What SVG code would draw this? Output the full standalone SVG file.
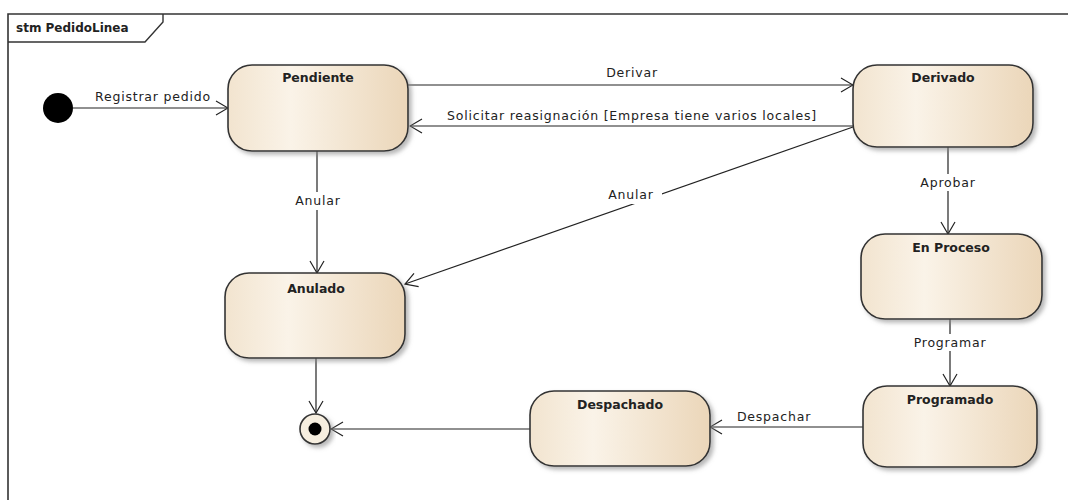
<svg xmlns="http://www.w3.org/2000/svg" width="1068" height="500" viewBox="0 0 1068 500">
  <defs>
    <linearGradient id="stateFill" x1="0" y1="0" x2="1" y2="0">
      <stop offset="0" stop-color="#f2e4cf"/>
      <stop offset="0.35" stop-color="#faf3e8"/>
      <stop offset="1" stop-color="#ebd6b9"/>
    </linearGradient>
    <filter id="shadow" x="-10%" y="-10%" width="130%" height="140%">
      <feDropShadow dx="3" dy="3" stdDeviation="2" flood-color="#888" flood-opacity="0.6"/>
    </filter>
    <marker id="open" viewBox="0 0 14 16" refX="13" refY="8" markerWidth="14" markerHeight="16" markerUnits="userSpaceOnUse" orient="auto">
      <path d="M1,1 L13,8 L1,15" fill="none" stroke="#222" stroke-width="1.2"/>
    </marker>
  </defs>
  <style>
    .state { fill: url(#stateFill); stroke: #333; stroke-width: 1.6; filter: url(#shadow); }
    .title { font-family: "DejaVu Sans", "Liberation Sans", sans-serif; font-size: 12.5px; font-weight: bold; fill: #222; text-anchor: middle; }
    .lbl { font-family: "DejaVu Sans", "Liberation Sans", sans-serif; font-size: 12.5px; letter-spacing: 0.8px; fill: #222; }
    .mid { text-anchor: middle; }
    .edge { fill: none; stroke: #222; stroke-width: 1.2; marker-end: url(#open); }
    .bg { fill: #fff; }
  </style>
  <rect width="1068" height="500" fill="#fff"/>

  <!-- diagram frame with name tab -->
  <g id="frame">
    <path d="M8,500 L8,14 L1068,14" fill="none" stroke="#333" stroke-width="1.6"/>
    <path d="M8,42 L145,42 L163,22 L163,14" fill="none" stroke="#333" stroke-width="1.4"/>
    <text x="16" y="32" font-family="DejaVu Sans, Liberation Sans, sans-serif" font-size="12" font-weight="bold" fill="#222">stm PedidoLinea</text>
  </g>

  <!-- transitions -->
  <g id="connectors">
    <line class="edge" x1="73" y1="108" x2="228" y2="108"/>
    <line class="edge" x1="408" y1="85" x2="853" y2="85"/>
    <line class="edge" x1="853" y1="126" x2="410" y2="126"/>
    <line class="edge" x1="317" y1="151" x2="317" y2="273"/>
    <line class="edge" x1="853" y1="127" x2="405" y2="284"/>
    <line class="edge" x1="948" y1="147" x2="948" y2="234"/>
    <line class="edge" x1="950" y1="319" x2="950" y2="386"/>
    <line class="edge" x1="863" y1="427" x2="710" y2="427"/>
    <line class="edge" x1="530" y1="429" x2="331" y2="429"/>
    <line class="edge" x1="316" y1="358" x2="316" y2="413"/>

    <text class="lbl" x="95" y="101">Registrar pedido</text>
    <text class="lbl mid" x="632" y="77">Derivar</text>
    <text class="lbl mid" x="632" y="120">Solicitar reasignación [Empresa tiene varios locales]</text>
    <rect class="bg" x="290" y="192" width="56" height="18"/>
    <text class="lbl mid" x="318" y="205">Anular</text>
    <rect class="bg" x="602" y="186" width="60" height="18"/>
    <text class="lbl mid" x="631" y="199">Anular</text>
    <rect class="bg" x="914" y="174" width="68" height="17"/>
    <text class="lbl mid" x="948" y="187">Aprobar</text>
    <rect class="bg" x="908" y="334" width="84" height="17"/>
    <text class="lbl mid" x="950" y="347">Programar</text>
    <text class="lbl mid" x="774" y="421">Despachar</text>
  </g>

  <g id="initial">
    <circle cx="58" cy="108" r="15" fill="#000"/>
  </g>

  <g id="pendiente">
    <rect class="state" x="228" y="65" width="180" height="86" rx="24"/>
    <text class="title" x="318" y="82">Pendiente</text>
  </g>

  <g id="derivado">
    <rect class="state" x="853" y="65" width="180" height="82" rx="24"/>
    <text class="title" x="943" y="82">Derivado</text>
  </g>

  <g id="en-proceso">
    <rect class="state" x="861" y="234" width="181" height="85" rx="24"/>
    <text class="title" x="951" y="252">En Proceso</text>
  </g>

  <g id="programado">
    <rect class="state" x="863" y="386" width="174" height="81" rx="24"/>
    <text class="title" x="950" y="404">Programado</text>
  </g>

  <g id="anulado">
    <rect class="state" x="225" y="273" width="180" height="85" rx="24"/>
    <text class="title" x="316" y="293">Anulado</text>
  </g>

  <g id="despachado">
    <rect class="state" x="530" y="391" width="180" height="75" rx="24"/>
    <text class="title" x="620" y="409">Despachado</text>
  </g>

  <g id="final">
    <circle cx="315" cy="429" r="15" fill="#f6eedf" stroke="#333" stroke-width="1.6" filter="url(#shadow)"/>
    <circle cx="315" cy="429" r="6.5" fill="#000"/>
  </g>
</svg>
